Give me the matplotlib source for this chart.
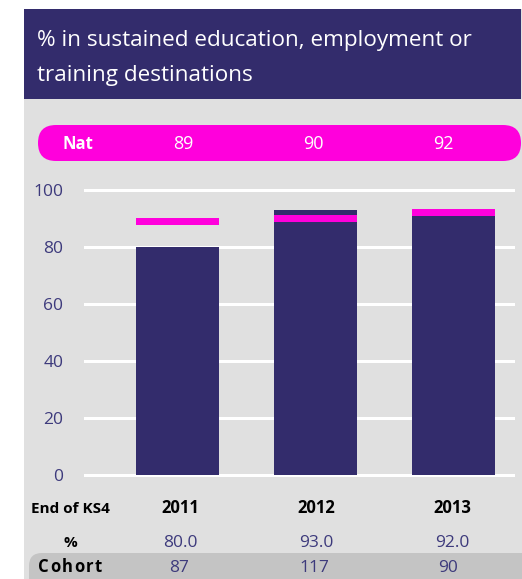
import matplotlib
matplotlib.use("Agg")
import matplotlib.pyplot as plt
from matplotlib.patches import Rectangle, FancyBboxPatch

plt.rcParams['font.family'] = ['Open Sans', 'DejaVu Sans']

years = ['2011', '2012', '2013']
pct = [80.0, 93.0, 92.0]
nat = [89, 90, 92]
cohort = [87, 117, 90]
yticks = [0, 20, 40, 60, 80, 100]

navy = '#332c6c'
magenta = '#ff00dc'
grey = '#e0e0e0'
label_col = '#3d3a7c'

fig = plt.figure(figsize=(5.22, 5.79), dpi=100)

# background axes in pixel units (x from left, y from top)
bg = fig.add_axes([0, 0, 1, 1])
bg.set_xlim(0, 522)
bg.set_ylim(579, 0)
bg.axis('off')

bg.add_patch(Rectangle((24, 9), 510, 580, color=grey, lw=0))
bg.add_patch(Rectangle((24, 9), 497, 90, color=navy, lw=0))
bg.text(37, 46, '% in sustained education, employment or', color='white',
        fontsize=16.2, va='baseline')
bg.text(37, 81, 'training destinations', color='white', fontsize=16.2, va='baseline')

# national pill
bg.add_patch(FancyBboxPatch((38, 125), 483, 36, boxstyle='round,pad=0,rounding_size=18',
                            color=magenta, lw=0))
bg.text(78, 149, 'Nat', color='white', fontsize=12, fontweight='bold',
        ha='center', va='baseline')
for xp, v in zip([183, 313, 443], nat):
    bg.text(xp, 149, str(v), color='white', fontsize=13, ha='center', va='baseline')

# table under the chart
col_x = [180, 316, 452]
bg.text(70, 513, 'End of KS4', fontsize=11, fontweight='bold', ha='center',
        va='baseline', color='black')
bg.text(70, 547, '%', fontsize=11, fontweight='bold', ha='center', va='baseline',
        color='black')
for xp, y, p in zip(col_x, years, pct):
    bg.text(xp, 513, y, fontsize=12, fontweight='bold', ha='center', va='baseline',
            color='black')
    bg.text(xp, 547, f'{p:.1f}', fontsize=12.5, ha='center', va='baseline', color=label_col)
bg.add_patch(FancyBboxPatch((29, 553), 510, 40, boxstyle='round,pad=0,rounding_size=13',
                            color='#c4c4c4', lw=0))
for xp, c in zip([179, 314, 448], cohort):
    bg.text(xp, 572, str(c), fontsize=12.5, ha='center', va='baseline', color=label_col)

# "Cohort" with letter spacing
fig.canvas.draw()
r = fig.canvas.get_renderer()
xc = 38
for ch in 'Cohort':
    t = bg.text(xc, 572, ch, fontsize=12, fontweight='bold', va='baseline', color='black')
    w = t.get_window_extent(renderer=r).width
    xc += w + 1.5

# chart axes
px = 2.85  # pixels per unit
lo, hi = -3, 103
ax_bottom = 579 - (475 - lo * px)
ax = fig.add_axes([84 / 522, ax_bottom / 579, 431 / 522, (hi - lo) * px / 579])
ax.set_facecolor('none')
x = [0, 1, 2]
ax.bar(x, pct, width=0.6, color=navy, zorder=2)
ax.bar(x, [2.4] * 3, bottom=[n - 1.2 for n in nat], width=0.6, color=magenta, zorder=3)
for yv in yticks:
    ax.axhline(yv, color='white', lw=2.2, zorder=1)
ax.set_xlim((84 - 177.5) / 138, (515 - 177.5) / 138)
ax.set_ylim(lo, hi)
ax.set_yticks(yticks)
ax.set_xticks([])
ax.tick_params(axis='y', length=0, pad=15, labelsize=12.5, labelcolor=label_col)
for s in ax.spines.values():
    s.set_visible(False)

fig.savefig('out.png', dpi=100)
